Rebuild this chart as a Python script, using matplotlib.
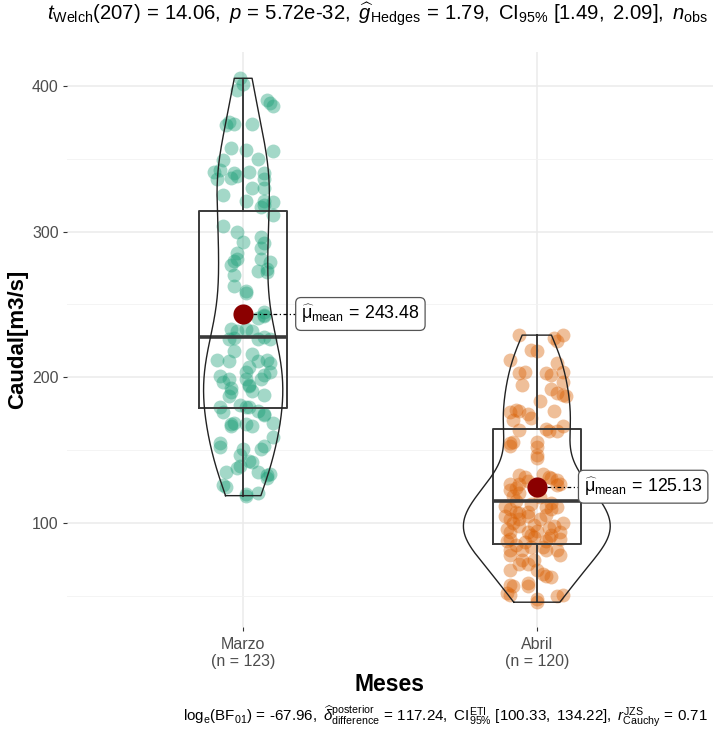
import numpy as np
import matplotlib
matplotlib.use("Agg")
import matplotlib.pyplot as plt

plt.rcParams['font.family'] = ['Liberation Sans', 'DejaVu Sans']
plt.rcParams['mathtext.fontset'] = 'custom'
plt.rcParams['mathtext.rm'] = 'Liberation Sans'
plt.rcParams['mathtext.it'] = 'Liberation Sans:italic'
plt.rcParams['mathtext.bf'] = 'Liberation Sans:bold'

# ---- data ----
groups = ["Marzo", "Abril"]
n_obs = [123, 120]
colors = ["#1B9E77", "#D95F02"]

caudal_marzo = [405, 401, 397, 390, 386, 388, 375, 374, 373, 374, 357, 356, 350, 349,
                341, 336, 342, 340, 338, 337, 341, 340, 336, 330, 325, 321, 321, 320,
                317, 311, 304, 293, 296, 292, 289, 280, 281, 277, 281, 279, 274, 273,
                272, 270, 263, 259, 258, 245, 243, 242, 241, 233, 232, 233, 232, 228,
                226, 226, 227, 226, 218, 212, 211, 216, 211, 212, 210, 207, 204, 204,
                202, 201, 197, 199, 193, 190, 187, 199, 194, 199, 188, 181, 180, 180,
                180, 176, 177, 174, 175, 168, 167, 169, 168, 167, 169, 155, 152, 151,
                147, 151, 153, 159, 143, 142, 139, 138, 135, 134, 131, 135, 126, 119,
                120, 121, 191, 318, 355, 300, 330, 125, 133, 285, 195]
# horizontal jitter of each point (category units)
jitter_marzo = [-0.01, 0.0, -0.02, 0.08, 0.1, 0.09, -0.05, -0.03, -0.06, 0.03, -0.04,
                0.01, 0.05, -0.07, -0.1, -0.09, -0.08, -0.03, -0.02, -0.04, 0.02, 0.07,
                0.07, 0.07, -0.07, 0.01, 0.07, 0.1, 0.06, 0.1, -0.07, -0.0, 0.06, 0.07,
                0.06, -0.03, -0.02, -0.04, 0.06, 0.09, 0.08, 0.05, 0.08, -0.03, -0.03,
                0.01, 0.01, 0.07, 0.07, 0.07, 0.05, -0.04, -0.02, 0.01, 0.03, 0.07,
                0.09, 0.05, -0.03, -0.05, -0.03, -0.09, -0.05, 0.03, 0.05, 0.08, 0.09,
                0.02, 0.01, 0.09, 0.07, -0.08, -0.07, -0.05, -0.04, -0.04, -0.05, 0.01,
                0.02, 0.06, 0.07, -0.01, 0.01, 0.02, -0.08, -0.07, 0.05, 0.07, 0.07,
                -0.04, -0.04, -0.03, 0.01, 0.03, 0.1, -0.08, -0.08, -0.0, -0.01, 0.06,
                0.07, 0.1, 0.02, 0.03, -0.01, -0.02, -0.06, 0.09, 0.08, 0.05, -0.07,
                0.01, 0.01, 0.05, 0.03, 0.07, 0.1, -0.02, 0.03, -0.06, 0.08, -0.02, 0.02]

caudal_abril = [229, 227, 229, 225, 219, 218, 212, 210, 203, 204, 203, 202, 204, 197,
                195, 192, 189, 188, 187, 184, 178, 177, 176, 175, 177, 172, 171, 165,
                163, 163, 167, 164, 155, 153, 156, 156, 152, 147, 145, 133, 132, 134,
                132, 131, 130, 127, 127, 124, 123, 127, 126, 129, 119, 121, 110, 108,
                107, 108, 111, 110, 111, 103, 100, 103, 105, 103, 97, 98, 96, 94, 94,
                92, 91, 94, 89, 88, 89, 87, 82, 84, 82, 82, 78, 82, 78, 75, 72, 72, 75,
                68, 68, 65, 64, 63, 58, 57, 59, 57, 52, 51, 48, 51, 50, 99, 90, 115,
                118, 114, 112, 113, 106, 98, 95, 92, 100, 85, 84, 88, 105, 46]
jitter_abril = [-0.06, 0.06, 0.09, 0.07, -0.02, -0.0, -0.09, 0.07, -0.06, -0.04, 0.03,
                0.05, 0.09, 0.09, -0.05, 0.05, 0.07, 0.09, 0.1, 0.01, -0.07, -0.06,
                -0.09, -0.03, 0.06, -0.02, -0.08, 0.03, 0.04, 0.07, 0.09, -0.06, -0.09,
                -0.09, -0.08, 0.0, -0.0, 0.0, -0.0, -0.06, -0.04, 0.02, 0.04, 0.05,
                0.07, 0.08, -0.09, -0.07, -0.09, -0.06, 0.07, -0.03, -0.08, -0.06,
                -0.09, -0.07, -0.06, -0.03, 0.03, 0.05, 0.07, -0.09, -0.08, -0.06,
                -0.03, 0.01, 0.04, 0.06, -0.1, -0.09, -0.03, -0.02, -0.01, 0.08, 0.08,
                -0.1, -0.09, -0.04, -0.05, 0.02, 0.03, 0.07, 0.08, -0.09, -0.09, -0.05,
                -0.06, -0.03, -0.01, -0.09, 0.0, 0.02, 0.03, 0.05, -0.09, -0.08, -0.03,
                -0.03, -0.1, -0.09, 0.0, 0.09, 0.07, -0.01, 0.04, -0.07, 0.01, 0.05,
                -0.11, -0.02, 0.03, -0.06, 0.0, 0.05, 0.09, -0.07, -0.02, 0.03, -0.11,
                0.0]

# boxplot statistics: whisker low, Q1, median, Q3, whisker high
box_stats = [[119, 179, 228, 314, 404], [47, 86, 115, 165, 229]]
mean_vals = [243.48, 125.13]
label_offset = [0.185, 0.148]   # where the repelled mean labels sit

caudal = [caudal_marzo, caudal_abril]
jitter = [jitter_marzo, jitter_abril]

fig = plt.figure(figsize=(7.19, 7.29), dpi=100)
ax = fig.add_axes([67 / 719, 1 - 627 / 729, 646 / 719, 575 / 729])


def kde(vals, grid):
    v = np.asarray(vals, float)
    n = len(v)
    q75, q25 = np.percentile(v, [75, 25])
    bw = 0.9 * min(v.std(ddof=1), (q75 - q25) / 1.34) * n ** -0.2
    d = np.exp(-0.5 * ((grid[:, None] - v[None, :]) / bw) ** 2).sum(1)
    return d / (n * bw * np.sqrt(2 * np.pi))


dens = []
grids = []
for vals in caudal:
    g = np.linspace(min(vals), max(vals), 512)
    grids.append(g)
    dens.append(kde(vals, g))
dmax = max(d.max() for d in dens)

for i, vals in enumerate(caudal):
    pos = i + 1
    xs = pos + np.asarray(jitter[i])
    ax.scatter(xs, vals, s=100, color=colors[i], alpha=0.4, lw=0, zorder=2)

    st = box_stats[i]
    ax.bxp([dict(whislo=st[0], q1=st[1], med=st[2], q3=st[3], whishi=st[4])],
           positions=[pos], widths=0.3, showfliers=False, showcaps=False,
           manage_ticks=False,
           boxprops=dict(color='#3A3A3A', lw=1.4),
           whiskerprops=dict(color='#3A3A3A', lw=1.4),
           medianprops=dict(color='#3A3A3A', lw=2.6), zorder=3)

    half = 0.25 * dens[i] / dmax
    g = grids[i]
    vx = np.concatenate([pos - half, (pos + half)[::-1], [pos - half[0]]])
    vy = np.concatenate([g, g[::-1], [g[0]]])
    ax.plot(vx, vy, color='#222222', lw=1.0, zorder=4)

    lx = pos + label_offset[i]
    ax.plot([pos, lx], [mean_vals[i], mean_vals[i]], color='black', lw=0.9,
            ls=(0, (3, 2, 1, 2)), zorder=4)
    ax.plot(pos, mean_vals[i], 'o', color='#8B0000', ms=14.5, mew=0, zorder=5)
    ax.text(lx + 0.012, mean_vals[i],
            r"$\widehat{\mathrm{μ}}_{\mathrm{mean}}\,=\,%.2f$" % mean_vals[i],
            fontsize=12.8, ha='left', va='center', color='black', zorder=6,
            bbox=dict(boxstyle='round,pad=0.3,rounding_size=0.3', fc='white',
                      ec='#555555', lw=0.9))

ax.set_xlim(0.4, 2.6)
ax.set_ylim(29, 423)
ax.set_yticks([100, 200, 300, 400])
ax.set_yticks([50, 150, 250, 350], minor=True)
ax.set_xticks([1, 2])
ax.set_xticklabels([f"{g}\n(n = {n})" for g, n in zip(groups, n_obs)])
ax.grid(True, which='major', color='#EBEBEB', lw=1.1, zorder=0)
ax.grid(True, which='minor', axis='y', color='#F2F2F2', lw=0.6, zorder=0)
ax.set_axisbelow(True)
for s in ax.spines.values():
    s.set_visible(False)
ax.tick_params(axis='both', which='major', length=3, color='#333333',
               labelcolor='#4D4D4D', labelsize=11.5, pad=3)
ax.tick_params(axis='x', which='major', pad=4)
ax.tick_params(axis='both', which='minor', length=0)

ax.set_xlabel("Meses", fontsize=16.5, fontweight='bold', labelpad=3)
ax.set_ylabel("Caudal[m3/s]", fontsize=16, fontweight='bold', labelpad=3)

# the subtitle runs off the right edge in the original; only up to n_obs is visible
fig.text(47 / 719, 1 - 14 / 729,
         r"$t_{\mathrm{Welch}}(207)\,=\,14.06,\ p\,=\,5.72\mathrm{e}{\text{-}}32,\ "
         r"\widehat{g}_{\mathrm{Hedges}}\,=\,1.79,\ \mathrm{CI}_{95\%}\ [1.49,\ 2.09],\ "
         r"n_{\mathrm{obs}}$",
         fontsize=14.6, ha='left', va='center')
fig.text(708 / 719, 1 - 716 / 729,
         r"$\mathrm{log}_{\mathrm{e}}(\mathrm{BF}_{01})\,=\,\text{-}67.96,\ "
         r"\widehat{\delta}_{\mathrm{difference}}^{\mathrm{posterior}}\,=\,117.24,\ "
         r"\mathrm{CI}_{95\%}^{\mathrm{ETI}}\ [100.33,\ 134.22],\ "
         r"r_{\mathrm{Cauchy}}^{\mathrm{JZS}}\,=\,0.71$",
         fontsize=10.9, ha='right', va='center')

fig.savefig("out.png", dpi=100, facecolor='white')
